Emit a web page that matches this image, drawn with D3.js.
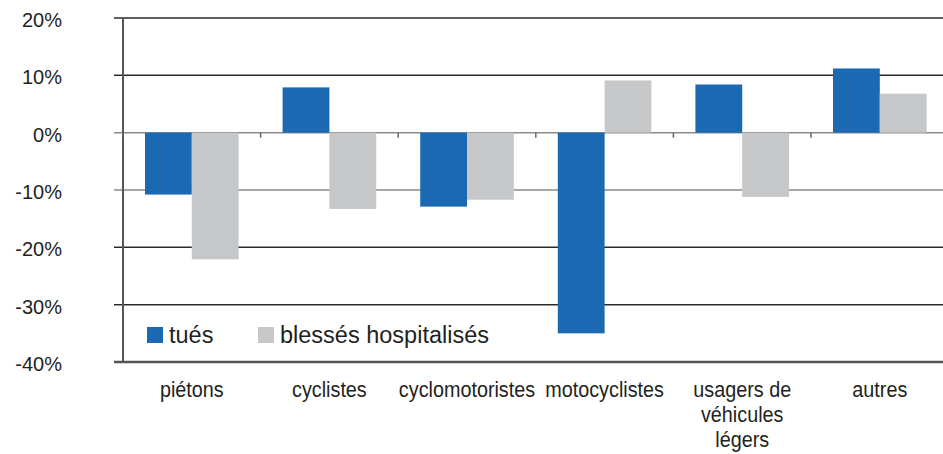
<!DOCTYPE html>
<meta charset="utf-8" />
<style>
  body { margin: 0; background: #fff; }
  text { font-family: "Liberation Sans", Arial, sans-serif; fill: #231f20; }
</style>
<body>
<script src="https://d3js.org/d3.v7.min.js"></script>
<script>
  // data (% change)
  var categories = ["piétons", "cyclistes", "cyclomotoristes", "motocyclistes", "usagers de véhicules légers", "autres"];
  var categoryLines = [["piétons"], ["cyclistes"], ["cyclomotoristes"], ["motocyclistes"], ["usagers de", "véhicules", "légers"], ["autres"]];
  var series = ["tués", "blessés hospitalisés"];
  var tues = [-10.8, 7.9, -12.9, -35.0, 8.4, 11.2];
  var blesses = [-22.1, -13.3, -11.7, 9.1, -11.2, 6.8];
  var yTicks = [20, 10, 0, -10, -20, -30, -40];
  var colors = ["#1c69b3", "#c6c7c9"];

  var W = 943, H = 454;
  var plotLeft = 123, plotTop = 18, plotBottom = 362, band = 137.6;

  var svg = d3.select("body").append("svg").attr("width", W).attr("height", H);

  var y = d3.scaleLinear().domain([-40, 20]).range([plotBottom, plotTop]);
  var x = d3.scaleBand().domain(categories).range([plotLeft, plotLeft + band * categories.length]);
  var xs = d3.scaleBand().domain(series).range([22, band - 22]);

  // gridlines
  svg.append("g").selectAll("line")
    .data(yTicks)
    .enter()
    .append("line")
    .attr("x1", plotLeft - 9)
    .attr("x2", W)
    .attr("y1", function (d) { return y(d); })
    .attr("y2", function (d) { return y(d); })
    .attr("stroke", function (d) {
      if (d == -40) return "#555";
      if (d == 0 || d == -10) return "#8a8a8a";
      return "#2a2a2a";
    })
    .attr("stroke-width", function (d) { return d == -40 ? 2.5 : 1.5; });

  // y labels
  svg.append("g").selectAll("text")
    .data(yTicks)
    .enter()
    .append("text")
    .attr("x", 62)
    .attr("y", function (d) { return y(d) + 2; })
    .attr("dy", "0.35em")
    .attr("text-anchor", "end")
    .style("font-size", "20px")
    .text(function (d) { return d + "%"; });

  // bars
  var rows = categories.map(function (c, i) { return { cat: c, vals: [tues[i], blesses[i]] }; });
  var grp = svg.append("g").selectAll("g")
    .data(rows)
    .enter()
    .append("g")
    .attr("transform", function (d) { return "translate(" + x(d.cat) + ",0)"; });

  grp.selectAll("rect")
    .data(function (d) { return d.vals.map(function (v, j) { return { s: series[j], v: v, j: j }; }); })
    .enter()
    .append("rect")
    .attr("x", function (d) { return xs(d.s); })
    .attr("width", xs.bandwidth())
    .attr("y", function (d) { return y(Math.max(0, d.v)); })
    .attr("height", function (d) { return Math.abs(y(d.v) - y(0)); })
    .attr("fill", function (d) { return colors[d.j]; });

  // left axis line and category ticks on zero line
  svg.append("line")
    .attr("x1", plotLeft).attr("x2", plotLeft)
    .attr("y1", plotTop).attr("y2", plotBottom)
    .attr("stroke", "#555").attr("stroke-width", 2);

  svg.append("g").selectAll("line")
    .data(categories)
    .enter()
    .append("line")
    .attr("x1", function (d) { return x(d); })
    .attr("x2", function (d) { return x(d); })
    .attr("y1", y(0))
    .attr("y2", y(0) + 5)
    .attr("stroke", "#666")
    .attr("stroke-width", 1.5);

  // category labels (slightly condensed like the original)
  svg.append("g").selectAll("text")
    .data(categories)
    .enter()
    .append("text")
    .attr("text-anchor", "middle")
    .attr("transform", function (d) { return "translate(" + (x(d) + band / 2) + ",397) scale(0.9,1)"; })
    .style("font-size", "22px")
    .each(function (d, i) {
      var t = d3.select(this);
      categoryLines[i].forEach(function (line, k) {
        t.append("tspan")
          .attr("x", 0)
          .attr("dy", k == 0 ? 0 : 25)
          .text(line);
      });
    });

  // legend
  var legX = [147, 258];
  var leg = svg.append("g").selectAll("g")
    .data(series)
    .enter()
    .append("g")
    .attr("transform", function (d, i) { return "translate(" + legX[i] + ",327)"; });
  leg.append("rect").attr("width", 16).attr("height", 16)
    .attr("fill", function (d, i) { return colors[i]; });
  leg.append("text").attr("x", 22).attr("y", 16)
    .style("font-size", "23.5px")
    .text(function (d) { return d; });
</script>
</body>
